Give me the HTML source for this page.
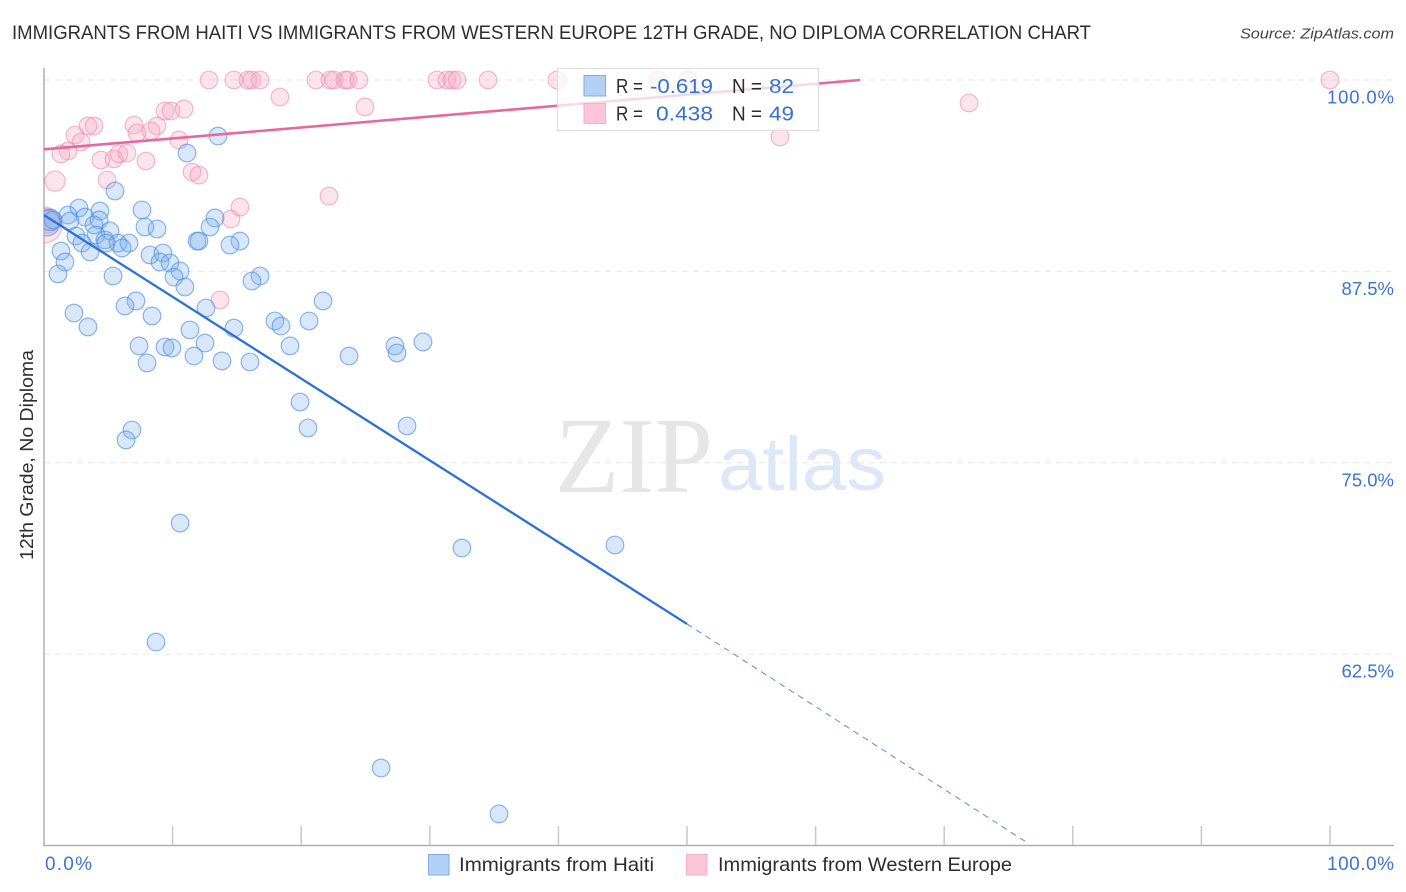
<!DOCTYPE html>
<html lang="en">
<head>
<meta charset="utf-8">
<title>Immigrants from Haiti vs Immigrants from Western Europe Correlation Chart</title>
<style>
html,body{margin:0;padding:0;background:#fff}
svg{display:block;font-family:"Liberation Sans",Arial,sans-serif}
</style>
</head>
<body>
<svg id="chart" width="1406" height="892" viewBox="0 0 1406 892" xmlns="http://www.w3.org/2000/svg">
  <defs><clipPath id="plot-clip"><rect x="44" y="60" width="1350" height="786"/></clipPath></defs>
  <text x="12" y="39" font-size="19.5" fill="#2d2d2d" textLength="1079" lengthAdjust="spacingAndGlyphs">IMMIGRANTS FROM HAITI VS IMMIGRANTS FROM WESTERN EUROPE 12TH GRADE, NO DIPLOMA CORRELATION CHART</text>
  <text x="1394" y="38.5" font-size="15" font-style="italic" fill="#444" text-anchor="end" textLength="154" lengthAdjust="spacingAndGlyphs">Source: ZipAtlas.com</text>
  <g>
    <text x="555" y="492" font-family="'Liberation Serif',serif" font-size="108" fill="#e6e6e6" textLength="158" lengthAdjust="spacingAndGlyphs">ZIP</text>
    <text x="718" y="490" font-size="76" fill="#dce8f8" textLength="168" lengthAdjust="spacingAndGlyphs">atlas</text>
  </g>
  <g id="grid"></g>
  <g id="axes"></g>
  <g id="marks" clip-path="url(#plot-clip)"></g>
  <g id="trends"></g>
  <g>
    <rect x="557.5" y="68.5" width="261" height="62" fill="#fff" fill-opacity="0.74" stroke="#dcdcdc" stroke-width="1"/>
    <rect x="584" y="75.5" width="21.5" height="20.5" fill="#b5d0f7" stroke="#7fabea"/>
    <rect x="584" y="103.5" width="21.5" height="20" fill="#fcc6d8" stroke="#f6afc8"/>
    <g font-size="20">
      <text x="616" y="93" fill="#2d2d2d" textLength="27" lengthAdjust="spacingAndGlyphs">R =</text>
      <text x="650" y="93" fill="#3570d2" textLength="63" lengthAdjust="spacingAndGlyphs">-0.619</text>
      <text x="732" y="93" fill="#2d2d2d" textLength="30" lengthAdjust="spacingAndGlyphs">N =</text>
      <text x="769" y="93" fill="#3570d2" textLength="25" lengthAdjust="spacingAndGlyphs">82</text>
      <text x="616" y="120.5" fill="#2d2d2d" textLength="27" lengthAdjust="spacingAndGlyphs">R =</text>
      <text x="656" y="120.5" fill="#3570d2" textLength="57" lengthAdjust="spacingAndGlyphs">0.438</text>
      <text x="732" y="120.5" fill="#2d2d2d" textLength="30" lengthAdjust="spacingAndGlyphs">N =</text>
      <text x="769" y="120.5" fill="#3570d2" textLength="25" lengthAdjust="spacingAndGlyphs">49</text>
    </g>
  </g>
  <text transform="translate(33,455) rotate(-90)" font-size="18.5" fill="#2d2d2d" text-anchor="middle" textLength="210" lengthAdjust="spacingAndGlyphs">12th Grade, No Diploma</text>
  <g>
    <rect x="428.5" y="854.5" width="20.5" height="20.5" fill="#b5d0f7" stroke="#7fabea"/>
    <text x="459" y="871" font-size="19.5" fill="#2d2d2d" textLength="195" lengthAdjust="spacingAndGlyphs">Immigrants from Haiti</text>
    <rect x="686.5" y="854.5" width="20.5" height="20.5" fill="#fcc6d8" stroke="#f6afc8"/>
    <text x="718" y="871" font-size="19.5" fill="#2d2d2d" textLength="294" lengthAdjust="spacingAndGlyphs">Immigrants from Western Europe</text>
  </g>
</svg>
<script>
// Chart data (percent values)
const xTicks = [0, 10, 20, 30, 40, 50, 60, 70, 80, 90, 100];
const yTicks = [100, 87.5, 75, 62.5];
const yTickLabels = ["100.0%", "87.5%", "75.0%", "62.5%"];
const xEndLabels = ["0.0%", "100.0%"];

const haitiX = [0.23,0.47,13.53,11.12,5.52,7.62,2.72,4.35,1.87,3.19,4.28,13.30,0.70,2.02,3.89,7.85,8.79,12.91,5.13,4.04,2.49,2.95,4.74,5.75,6.61,4.82,6.07,11.90,12.05,15.24,14.46,1.32,3.58,8.24,9.25,9.02,9.80,1.63,1.09,5.37,10.58,10.11,10.96,16.80,16.17,7.15,6.30,12.60,21.70,2.33,8.40,3.42,11.35,14.77,17.96,18.43,20.61,7.39,9.41,9.95,12.52,19.13,27.29,29.47,11.66,8.01,13.84,16.02,23.72,27.45,19.91,20.53,28.23,6.84,6.38,10.58,32.50,44.40,8.71,26.21,35.38];
const haitiY = [90.66,90.86,96.34,95.23,92.75,91.51,91.64,91.44,91.18,91.05,90.86,90.99,90.86,90.79,90.53,90.40,90.27,90.40,90.14,89.88,89.81,89.35,89.55,89.35,89.35,89.35,89.03,89.48,89.48,89.48,89.22,88.83,88.77,88.57,88.70,88.11,88.05,88.11,87.33,87.20,87.52,87.13,86.48,87.20,86.87,85.57,85.24,85.11,85.57,84.78,84.59,83.87,83.67,83.80,84.26,83.93,84.26,82.63,82.56,82.50,82.82,82.63,82.63,82.89,81.97,81.52,81.65,81.58,81.97,82.17,78.97,77.27,77.40,77.14,76.49,71.06,69.43,69.63,63.29,55.06,52.06];
const haitiWeights = [1.45,1.2];

const europeX = [0.00,0.23,0.86,12.83,14.77,15.86,16.17,16.80,21.15,22.24,22.55,23.41,23.64,24.49,30.56,31.34,31.73,32.12,34.53,39.89,47.75,50.08,100,18.35,9.41,9.88,10.89,24.96,71.93,57.23,7.00,8.79,8.32,7.23,3.89,3.42,2.41,2.88,10.50,1.87,1.32,4.43,5.44,5.83,6.45,7.93,4.90,11.51,12.05,22.16,15.24,14.54,13.69];
const europeY = [90.53,90.80,93.40,100,100,100,100,100,100,100,100,100,100,100,100,100,100,100,100,100,100,100,100,98.89,97.98,97.98,98.11,98.24,98.50,96.28,97.06,97.00,96.67,96.54,97.00,97.00,96.41,95.95,96.08,95.36,95.17,94.77,94.84,95.17,95.23,94.71,93.47,93.99,93.79,92.42,91.70,90.92,85.63];
const europeWeights = [2.05,1.4,1.15];

const haitiTrendX = [0, 50];
const haitiTrendY = [91.18, 64.47];
const haitiDashX = [50, 76.5];
const haitiDashY = [64.47, 50.16];
const europeTrendX = [0, 63.45];
const europeTrendY = [95.47, 100];

const xScale = v => 44 + v * 12.86;
const yScale = v => 80 + (100 - v) * 15.31;
const NS = "http://www.w3.org/2000/svg";
const gridG = document.getElementById("grid");
const axesG = document.getElementById("axes");
const marksG = document.getElementById("marks");
const trendsG = document.getElementById("trends");

function svgEl(tag, parent, attrs) {
  const el = document.createElementNS(NS, tag);
  for (const k in attrs) el.setAttribute(k, attrs[k]);
  parent.appendChild(el);
  return el;
}

yTicks.forEach((t, i) => {
  const line = svgEl("line", gridG, {x1: 44, x2: 1394, y1: yScale(t), y2: yScale(t), stroke: "#e6e6e6", "stroke-width": 1, "stroke-dasharray": "6 5"});
  
  
  const label = svgEl("text", axesG, {x: 1394, y: yScale(t) + 23.5, "text-anchor": "end", "font-size": 18.5, fill: "#3d74d3"});
  label.textContent = yTickLabels[i];
  if (yTickLabels[i].length > 5) label.setAttribute("textLength", 67);
  
  
});

const yAxis = svgEl("line", axesG, {x1: 44, x2: 44, y1: 68, y2: 845.5, stroke: "#b0b0b0", "stroke-width": 1.5});


const xAxis = svgEl("line", axesG, {x1: 43, x2: 1394, y1: 845.5, y2: 845.5, stroke: "#b0b0b0", "stroke-width": 1.5});



xTicks.forEach(t => {
  if (t === 0) return;
  const tick = svgEl("line", axesG, {x1: xScale(t), x2: xScale(t), y1: 826, y2: 845, stroke: "#c8c8c8", "stroke-width": 1.5});
  
  
});

const xLabelStart = svgEl("text", axesG, {x: 45, y: 870, "font-size": 19, fill: "#3d74d3", textLength: 47});
xLabelStart.textContent = xEndLabels[0];


const xLabelEnd = svgEl("text", axesG, {x: 1394, y: 870, "font-size": 19, fill: "#3d74d3", "text-anchor": "end", textLength: 67});
xLabelEnd.textContent = xEndLabels[1];



const baseRadius = 8.8;
europeX.forEach((v, i) => {
  const dot = svgEl("circle", marksG, {cx: xScale(v), cy: yScale(europeY[i]), r: baseRadius * (europeWeights[i] || 1), fill: "#f6a5c0", "fill-opacity": 0.3, stroke: "#ee8aac", "stroke-opacity": 0.6, "stroke-width": 1.2});
  
  
});
haitiX.forEach((v, i) => {
  const dot = svgEl("circle", marksG, {cx: xScale(v), cy: yScale(haitiY[i]), r: baseRadius * (haitiWeights[i] || 1), fill: "#7fb0ee", "fill-opacity": 0.3, stroke: "#4f8fe3", "stroke-opacity": 0.65, "stroke-width": 1.2});
  
  
});

const haitiLine = svgEl("line", trendsG, {x1: xScale(haitiTrendX[0]), y1: yScale(haitiTrendY[0]), x2: xScale(haitiTrendX[1]), y2: yScale(haitiTrendY[1]), stroke: "#2a72d5", "stroke-width": 2.3});


const haitiDash = svgEl("line", trendsG, {x1: xScale(haitiDashX[0]), y1: yScale(haitiDashY[0]), x2: xScale(haitiDashX[1]), y2: yScale(haitiDashY[1]), stroke: "#2a72d5", "stroke-width": 1, "stroke-opacity": 0.8, "stroke-dasharray": "6 5"});


const europeLine = svgEl("line", trendsG, {x1: xScale(europeTrendX[0]), y1: yScale(europeTrendY[0]), x2: xScale(europeTrendX[1]), y2: yScale(europeTrendY[1]), stroke: "#e9689a", "stroke-width": 2.6});


</script>
</body>
</html>
